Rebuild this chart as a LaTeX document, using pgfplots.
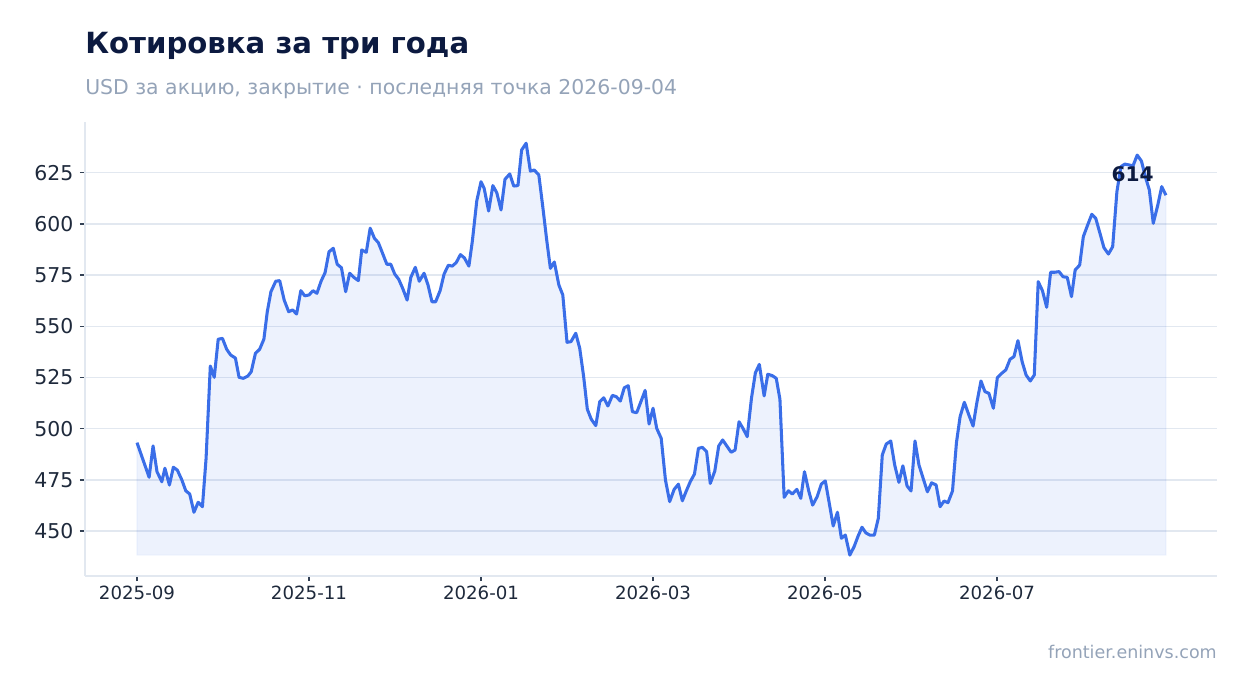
\documentclass[border=0pt]{standalone}
\usepackage{pgfplots}
\pgfplotsset{compat=1.18}
\usepackage{pgfplotstable}
\usepgfplotslibrary{fillbetween}
\usepackage{fontspec}
\setmainfont{DejaVu Sans}

\definecolor{lineblue}{HTML}{3A6EE8}
\definecolor{gridgray}{HTML}{E2E8F0}
\definecolor{titlenavy}{HTML}{0C1A40}
\definecolor{subgray}{HTML}{94A3B8}
\definecolor{ticktext}{HTML}{1E293B}
\definecolor{tickmark}{HTML}{334155}

% day = days since 2025-09-01, close = USD per share
\pgfplotstableread{
day close
0 493.2
4.3 476.3
5.7 491.6
7.1 479.0
8.8 474.1
9.9 480.7
11.5 472.5
12.9 481.2
14.3 479.8
15.9 475.0
17.3 469.7
18.7 468.1
20.2 459.2
21.7 464.1
23.2 461.9
24.5 485.5
26.0 530.6
27.4 525.1
28.8 543.7
30.3 544.1
31.8 538.8
33.2 536.0
34.9 534.5
36.2 525.1
37.7 524.6
39.3 525.7
40.5 527.8
42.0 536.8
43.5 538.8
45.0 543.7
46.2 557.1
47.5 566.9
49.2 572.0
50.6 572.3
52.2 562.8
53.8 557.1
55.2 558.0
56.6 556.0
58.1 567.4
59.5 564.9
61.0 565.3
62.4 567.4
63.8 566.1
65.3 572.1
66.7 576.2
68.1 586.4
69.6 588.1
71.0 580.3
72.5 578.6
74.0 566.9
75.4 575.9
76.9 573.9
78.5 572.3
79.7 587.3
81.3 586.1
82.7 597.9
84.2 593.0
85.6 590.8
87.1 585.6
88.6 580.3
90.0 580.3
91.4 575.5
92.8 573.0
94.2 568.6
95.8 562.8
97.1 573.9
98.7 578.8
100.1 572.0
101.8 575.9
103.2 570.2
104.6 562.0
105.9 562.0
107.5 567.4
108.9 575.5
110.4 579.8
111.8 579.4
113.2 581.1
114.7 585.0
116.1 583.4
117.7 579.4
118.9 591.3
120.5 611.3
122.0 620.6
123.1 617.4
124.7 606.3
126.2 618.7
127.6 615.2
129.1 606.8
130.5 621.8
132.2 624.4
133.6 618.5
135.1 618.7
136.4 636.1
138.0 639.4
139.5 625.8
140.9 626.3
142.5 623.9
143.9 608.4
145.3 592.1
146.6 578.3
148.0 581.4
149.6 570.2
151.0 565.3
152.5 542.2
153.9 542.5
155.6 546.6
157.0 539.3
158.4 525.4
159.7 509.5
161.1 504.6
162.7 501.5
164.1 513.2
165.5 515.1
167.0 511.1
168.6 516.3
170.0 515.6
171.4 513.5
172.8 520.0
174.2 521.0
175.7 508.3
177.2 507.8
178.7 513.2
180.2 518.7
181.6 502.3
183.0 510.0
184.3 500.2
185.9 495.3
187.4 475.0
188.9 464.4
190.5 470.4
192.0 472.9
193.4 464.8
194.8 469.6
196.2 474.1
197.7 477.9
199.1 490.4
200.5 490.9
202.0 488.8
203.3 473.3
204.9 479.3
206.3 491.6
207.7 494.5
209.1 491.7
210.7 488.5
212.1 489.6
213.5 503.4
215.0 499.9
216.4 496.1
217.9 514.8
219.3 527.3
220.7 531.4
222.4 516.0
223.7 526.6
225.3 525.9
226.7 524.6
228.0 514.4
229.5 466.5
231.0 469.7
232.4 468.1
234.0 470.4
235.4 466.0
236.7 479.0
238.2 469.7
239.6 462.7
241.2 466.8
242.7 473.0
244.1 474.5
245.5 463.6
246.9 452.5
248.4 459.2
249.8 446.5
251.2 448.1
252.8 438.3
254.3 442.4
255.7 447.5
257.1 451.9
258.5 449.1
260.0 448.0
261.5 448.1
262.9 456.3
264.3 487.2
265.7 492.5
267.3 494.0
268.7 482.3
270.2 473.8
271.6 481.9
273.1 472.0
274.5 469.6
275.9 494.0
277.3 482.3
278.9 475.3
280.3 469.2
281.8 473.6
283.4 472.5
284.8 461.9
286.2 464.7
287.6 463.9
289.2 469.6
290.6 493.2
291.9 505.9
293.4 512.9
295.0 506.7
296.5 501.3
297.8 512.4
299.3 523.3
300.7 518.1
302.1 517.3
303.7 510.0
305.1 524.9
306.7 527.1
308.1 528.7
309.6 533.9
311.0 535.2
312.4 543.0
313.9 532.7
315.3 526.2
316.8 523.3
318.2 526.2
319.6 571.8
321.1 567.4
322.6 559.3
324.0 576.4
325.5 576.4
327.0 576.7
328.4 574.2
329.9 573.9
331.4 564.5
332.7 577.5
334.3 579.9
335.6 593.8
337.0 599.0
338.6 604.7
340.0 602.7
341.5 595.4
342.9 588.4
344.5 585.3
346.0 588.9
347.5 615.7
348.9 627.9
350.3 629.2
351.8 628.8
353.2 628.3
354.7 633.6
356.2 630.7
357.6 623.0
359.0 616.6
360.4 600.3
362.0 609.2
363.4 618.2
364.9 614.0
}\prices

\begin{document}
\begin{tikzpicture}
\begin{axis}[
    scale only axis,
    width=815.04pt, height=326.88pt,
    xmin=-18.44, xmax=383.0,
    ymin=428.08, ymax=649.76,
    axis lines*=left,
    axis line style={draw=gridgray, line width=1.1pt},
    xtick={0,61,122,183,244,305},
    xticklabels={2025-09,2025-11,2026-01,2026-03,2026-05,2026-07},
    ytick={450,475,500,525,550,575,600,625},
    ymajorgrids=true,
    grid style={draw=gridgray, line width=1.1pt},
    tick align=outside,
    major tick length=3.6pt,
    tick style={draw=tickmark, line width=0.9pt},
    /pgf/number format/assume math mode=true,
    yticklabel style={font=\fontsize{14.7}{17}\selectfont, text=ticktext, xshift=-1.2pt},
    xticklabel style={font=\fontsize{13.1}{15}\selectfont, text=ticktext},
    clip=false,
]

\addplot[name path=base, draw=none, forget plot] coordinates {(0,438.3) (364.9,438.3)};
\addplot[name path=price, draw=none, forget plot] table[x=day, y=close] {\prices};
\addplot[fill=lineblue, fill opacity=0.09, draw=lineblue, draw opacity=0.06, line width=0.8pt]
    fill between[of=price and base];

\addplot[color=lineblue, line width=2.2pt, line join=round] table[x=day, y=close] {\prices};

\node[font=\fontsize{14.5}{16}\selectfont\bfseries, text=titlenavy, anchor=center]
    at (axis cs:353.1,624.4) {614};
\end{axis}

\node[anchor=base west, font=\fontsize{21}{25}\selectfont\bfseries, text=titlenavy, inner sep=0pt]
    at (0pt,376.3pt) {Котировка за три года};
\node[anchor=base west, font=\fontsize{14.7}{17}\selectfont, text=subgray, inner sep=0pt]
    at (0pt,347.0pt) {USD за акцию, закрытие · последняя точка 2026-09-04};
\node[anchor=base east, font=\fontsize{12.6}{15}\selectfont, text=subgray, inner sep=0pt]
    at (815.04pt,-59.3pt) {frontier.eninvs.com};

\pgfresetboundingbox
\useasboundingbox (-61.2pt,-84.24pt) rectangle (836.64pt,414.72pt);
\end{tikzpicture}
\end{document}
